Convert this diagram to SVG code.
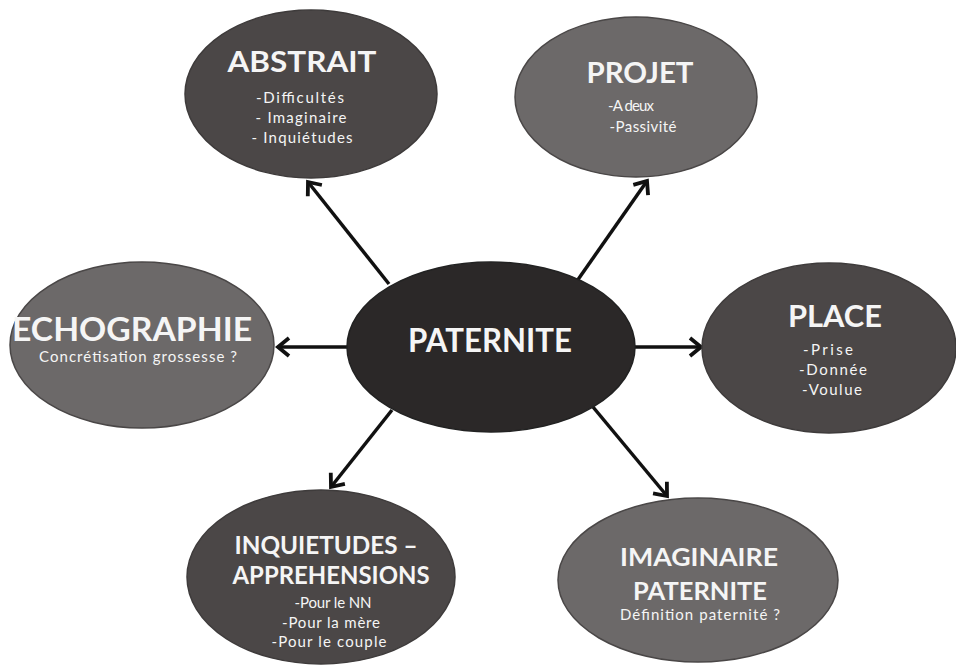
<svg xmlns="http://www.w3.org/2000/svg" width="956" height="666" viewBox="0 0 956 666">
<defs>
<style>
.bg{fill:#ffffff}
.dark{fill:#4b4747;stroke:#3e3b3b;stroke-width:1.5}
.light{fill:#6c6969;stroke:#4a4747;stroke-width:1.5}
.center{fill:#2b2828;stroke:#222;stroke-width:1.5}
.t{font-family:Lato,"Open Sans","Liberation Sans",sans-serif;fill:#f5f5f5;text-anchor:middle}
.b{font-weight:bold}
.s{font-size:15px}
.conn{stroke:#111;stroke-width:3.5;fill:none;marker-end:url(#arr)}
</style>
<marker id="arr" markerUnits="userSpaceOnUse" markerWidth="30" markerHeight="30" viewBox="-15 -15 30 30" refX="0" refY="0" orient="auto">
<path d="M-11,-9 L0,0 L-11,9" fill="none" stroke="#111" stroke-width="3.8" stroke-linejoin="miter"/>
</marker>
</defs>
<rect class="bg" x="0" y="0" width="956" height="666"/>
<g id="connectors">
<line class="conn" x1="389" y1="284" x2="308" y2="182"/>
<line class="conn" x1="577" y1="281" x2="647" y2="181"/>
<line class="conn" x1="348" y1="347" x2="278" y2="347"/>
<line class="conn" x1="635" y1="347" x2="701" y2="347"/>
<line class="conn" x1="392" y1="410" x2="331" y2="487"/>
<line class="conn" x1="593" y1="407" x2="667" y2="496"/>
</g>
<g id="node-paternite">
<ellipse class="center" cx="491" cy="347" rx="144" ry="85"/>
<text class="t b" x="490" y="352" font-size="32" textLength="164" lengthAdjust="spacingAndGlyphs">PATERNITE</text>
</g>
<g id="node-abstrait">
<ellipse class="dark" cx="311" cy="94" rx="126" ry="84"/>
<text class="t b" x="302" y="72" font-size="29" textLength="149" lengthAdjust="spacingAndGlyphs">ABSTRAIT</text>
<text class="t s" x="300" y="103" textLength="88">-Difficultés</text>
<text class="t s" x="301" y="123" textLength="91">- Imaginaire</text>
<text class="t s" x="302" y="143" textLength="101">- Inquiétudes</text>
</g>
<g id="node-projet">
<ellipse class="light" cx="636" cy="97" rx="121" ry="80"/>
<text class="t b" x="640" y="83" font-size="29" textLength="107" lengthAdjust="spacingAndGlyphs">PROJET</text>
<text class="t s" x="631" y="111" textLength="46">-A deux</text>
<text class="t s" x="643" y="132" textLength="67">-Passivité</text>
</g>
<g id="node-echographie">
<ellipse class="light" cx="142" cy="345" rx="132" ry="83"/>
<text class="t b" x="132" y="341" font-size="32" textLength="240" lengthAdjust="spacingAndGlyphs">ECHOGRAPHIE</text>
<text class="t s" x="138" y="362" textLength="198">Concrétisation grossesse ?</text>
</g>
<g id="node-place">
<ellipse class="dark" cx="829" cy="348" rx="127" ry="85"/>
<text class="t b" x="835" y="327" font-size="30" textLength="94" lengthAdjust="spacingAndGlyphs">PLACE</text>
<text class="t s" x="828" y="355" textLength="50">-Prise</text>
<text class="t s" x="833" y="375" textLength="68">-Donnée</text>
<text class="t s" x="832" y="395" textLength="60">-Voulue</text>
</g>
<g id="node-inquietudes">
<ellipse class="dark" cx="321" cy="577" rx="134" ry="87"/>
<text class="t b" x="326" y="554" font-size="24" textLength="183" lengthAdjust="spacingAndGlyphs">INQUIETUDES –</text>
<text class="t b" x="331" y="584" font-size="24" textLength="197" lengthAdjust="spacingAndGlyphs">APPREHENSIONS</text>
<text class="t s" x="333" y="608" textLength="77">-Pour le NN</text>
<text class="t s" x="331" y="628" textLength="98">-Pour la mère</text>
<text class="t s" x="329" y="647" textLength="115">-Pour le couple</text>
</g>
<g id="node-imaginaire">
<ellipse class="light" cx="698" cy="580" rx="140" ry="82"/>
<text class="t b" x="699" y="566" font-size="24" textLength="158" lengthAdjust="spacingAndGlyphs">IMAGINAIRE</text>
<text class="t b" x="700" y="600" font-size="24" textLength="134" lengthAdjust="spacingAndGlyphs">PATERNITE</text>
<text class="t s" x="700" y="620" textLength="160">Définition paternité ?</text>
</g>
</svg>
